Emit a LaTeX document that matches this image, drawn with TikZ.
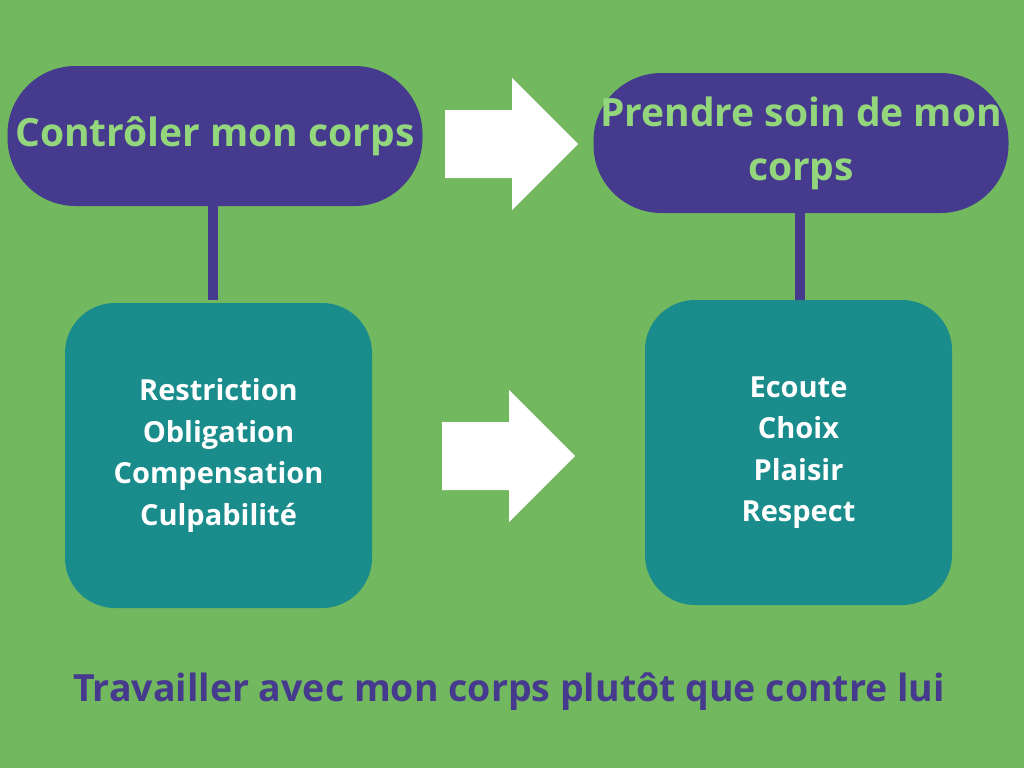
\documentclass[tikz,border=0pt]{standalone}
\usepackage{fontspec}
\setmainfont{Open Sans}
\definecolor{bggreen}{HTML}{72B85E}
\definecolor{pillpurple}{HTML}{463A8E}
\definecolor{boxteal}{HTML}{1A8C8C}
\definecolor{txtgreen}{HTML}{93D67C}
\tikzset{
  pill/.style={fill=pillpurple, rounded corners=68pt, minimum width=415pt, minimum height=140pt, text=txtgreen, font=\fontsize{39}{54}\selectfont\bfseries, align=center, inner sep=0pt},
  box/.style={fill=boxteal, rounded corners=50pt, minimum width=307pt, minimum height=305pt, text=white, font=\fontsize{29}{41.5}\selectfont\bfseries, align=center, inner sep=0pt},
  bigarrow/.style={fill=white},
  link/.style={pillpurple, line width=10pt}
}
% block arrow with its tail-left corner at #1
\newcommand{\blockarrow}[1]{%
  \fill[bigarrow] (#1) ++(0,32) -- ++(67,0) -- ++(0,-32) -- ++(66,66) -- ++(-66,66) -- ++(0,-32) -- ++(-67,0) -- cycle;}
\begin{document}
\begin{tikzpicture}[x=1pt,y=-1pt]
    \fill[bggreen] (0,0) rectangle (1024,768);
    \useasboundingbox (0,0) rectangle (1024,768);

    % Top row
    \node[pill] (control) at (215,136) {Contrôler mon corps};
    \node[pill] (care) at (801,143) {Prendre soin de mon\\corps};
    \coordinate (toparrow) at (445,78);
    \blockarrow{toparrow}

    % Bottom row
    \node[box] (restrict) at (218.5,455.5) {Restriction\\ Obligation\\Compensation\\Culpabilité};
    \node[box] (listen) at (798.5,452.5) {Ecoute\\Choix\\Plaisir\\Respect};
    \coordinate (midarrow) at (442,390);
    \blockarrow{midarrow}

    % Links
    \draw[link] (213,206) -- (213,300);
    \draw[link] (800,208) -- (800,300);

    \node[text=pillpurple, font=\fontsize{37.5}{44}\selectfont\bfseries] (motto) at (509,692) {Travailler avec mon corps plutôt que contre lui};
\end{tikzpicture}
\end{document}
